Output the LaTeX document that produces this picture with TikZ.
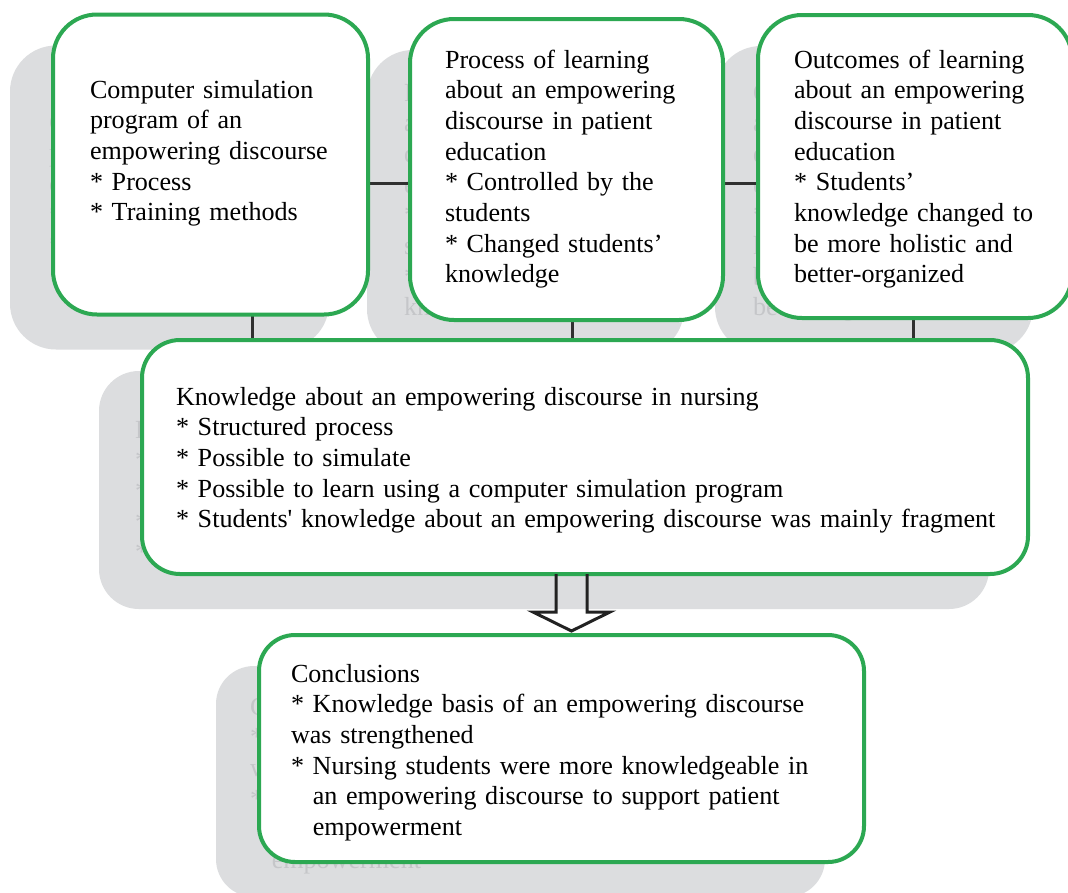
\documentclass[tikz,border=0pt]{standalone}
\usepackage{fontspec}
\setmainfont{Liberation Serif}
% family without TeX quote mapping, for the one straight apostrophe
\newfontfamily\plainserif{Liberation Serif}
\usetikzlibrary{calc}

\definecolor{boxgreen}{HTML}{2CA852}
\definecolor{shadowgray}{HTML}{DCDDDF}
\definecolor{ghostgray}{HTML}{C5C6C9}
\definecolor{linkgray}{HTML}{303030}
\definecolor{arrowgray}{HTML}{222222}

\pgfdeclarelayer{shadowlayer}
\pgfdeclarelayer{linklayer}
\pgfsetlayers{shadowlayer,linklayer,main}

% list marker at the start of a line
\newcommand\starpt{{}*\ }

% box texts
\newcommand\simtext{Computer simulation\\program of an\\empowering discourse\\\starpt Process\\\starpt Training methods}
\newcommand\proctext{Process of learning\\about an empowering\\discourse in patient\\education\\\starpt Controlled by the\\students\\\starpt Changed students’\\knowledge}
\newcommand\outtext{Outcomes of learning\\about an empowering\\discourse in patient\\education\\\starpt Students’\\knowledge changed to\\be more holistic and\\better-organized}
\newcommand\knowtext{Knowledge about an empowering discourse in nursing\\\starpt Structured process\\\starpt Possible to simulate\\\starpt Possible to learn using a computer simulation program\\\starpt Students{\plainserif\char"27} knowledge about an empowering discourse was mainly fragment}
\newcommand\conctext{Conclusions\\\starpt Knowledge basis of an empowering discourse\\was strengthened\\\starpt Nursing students were more knowledgeable in\\\hphantom{*}\ an empowering discourse to support patient\\\hphantom{*}\ empowerment}

\begin{document}
\begin{tikzpicture}[x=1pt,y=-1pt,
  card/.style={draw=boxgreen, line width=4pt, fill=white, rounded corners=#1,
    inner sep=0pt, outer sep=0pt},
  card/.default=44pt,
  shade/.style={draw=shadowgray, fill=shadowgray, line width=4pt, rounded corners=#1,
    inner sep=0pt, outer sep=0pt},
  shade/.default=44pt,
  body/.style={anchor=base west, inner sep=0pt, outer sep=0pt, align=left,
    font=\fontsize{26.1}{30.7}\selectfont, text=black},
  ghost/.style={body, text=ghostgray},
  link/.style={draw=linkgray, line width=3pt},
  hollow/.style={draw=arrowgray, line width=3pt, line join=miter}
]
\useasboundingbox (0,0) rectangle (1068,892);

% page ground, offset shadows with their faint text
\begin{pgfonlayer}{shadowlayer}
\fill[white] (0,0) rectangle (1068,892);
\node[shade, minimum width=315pt, minimum height=300pt] (s1) at (169.5,197.5) {};
\node[ghost, text width=330pt] (g1) at (49,131) {\simtext};
\node[shade, minimum width=313pt, minimum height=301pt] (s2) at (525.5,202.5) {};
\node[ghost, text width=330pt] (g2) at (404,101) {\proctext};
\node[shade, minimum width=314pt, minimum height=303pt] (s3) at (874,199.5) {};
\node[ghost, text width=330pt] (g3) at (753,101) {\outtext};
\node[shade=38pt, minimum width=886pt, minimum height=234pt] (sk) at (544,490) {};
\node[ghost, text width=860pt] (gk) at (135,438) {\knowtext};
\node[shade=36pt, minimum width=605pt, minimum height=227pt] (sc) at (520.5,781.5) {};
\node[ghost, text width=580pt] (gc) at (250,715) {\conctext};
\end{pgfonlayer}

% boxes
\node[card, minimum width=315pt, minimum height=300pt] (b1) at (210.5,164.5) {};
\node[card, minimum width=313pt, minimum height=301pt] (b2) at (566.5,169.5) {};
\node[card, minimum width=314pt, minimum height=303pt] (b3) at (915,166.5) {};
\node[card=38pt, minimum width=886pt, minimum height=234pt] (kn) at (585,457) {};
\node[card=36pt, minimum width=605pt, minimum height=227pt] (con) at (561.5,748.5) {};

% box texts
\node[body, text width=330pt] (t1) at (90,98) {\simtext};
\node[body, text width=330pt] (t2) at (445,68) {\proctext};
\node[body, text width=330pt] (t3) at (794,68) {\outtext};
\node[body, text width=860pt] (tk) at (176,405) {\knowtext};
\node[body, text width=580pt] (tc) at (291,682) {\conctext};

% connectors, under the boxes but over the shadows
\begin{pgfonlayer}{linklayer}
\draw[link] ([yshift=-18.5pt]b1.east) -- ([yshift=-18.5pt]b1.east -| b2.west);
\draw[link] ([yshift=-13.5pt]b2.east) -- ([yshift=-13.5pt]b2.east -| b3.west);
\draw[link] ([xshift=41.5pt]b1.south) -- ([xshift=41.5pt]b1.south |- kn.north);
\draw[link] ([xshift=5.5pt]b2.south) -- ([xshift=5.5pt]b2.south |- kn.north);
\draw[link] ([xshift=-2pt]b3.south) -- ([xshift=-2pt]b3.south |- kn.north);
\end{pgfonlayer}

% hollow block arrow from the knowledge box to the conclusions
\coordinate (tip) at (571.5,631);
\draw[hollow] ([xshift=-29pt]kn.south) -- ([xshift=-29pt]kn.south |- 0,612)
  -- (533,612) -- (tip) -- (610,612) -- ([xshift=2pt]kn.south |- 0,612)
  -- ([xshift=2pt]kn.south);
\end{tikzpicture}
\end{document}
